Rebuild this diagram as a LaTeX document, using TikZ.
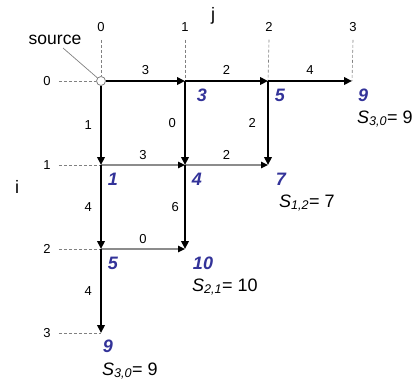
\documentclass[tikz,border=0pt]{standalone}
\usepackage{fontspec}
\setmainfont{Liberation Sans}
\usetikzlibrary{arrows.meta}
\definecolor{valblue}{RGB}{51,51,153}
\definecolor{edgegray}{RGB}{140,140,140}
\begin{document}
\begin{tikzpicture}[x=1pt,y=-1pt,
  thickedge/.style={line width=2.4pt,-{Triangle[length=8pt,width=7.5pt]}},
  thinedge/.style={draw=edgegray,line width=1.3pt,-{Triangle[length=7pt,width=6.5pt,color=black]}},
  guide/.style={densely dashed,draw=gray,line width=0.6pt},
  idx/.style={font=\fontsize{13}{15}\selectfont,inner sep=0pt},
  wt/.style={font=\fontsize{13}{15}\selectfont,inner sep=0pt},
  axis/.style={font=\fontsize{18}{20}\selectfont,inner sep=0pt},
  val/.style={font=\fontsize{18}{20}\selectfont\bfseries\itshape,text=valblue,inner sep=0pt},
  sumlbl/.style={font=\fontsize{18}{20}\selectfont,inner sep=0pt,anchor=base west},
]
\useasboundingbox (0,0) rectangle (417,386);
% grid points
\coordinate (p00) at (101,81);
\coordinate (p01) at (185,81);
\coordinate (p02) at (268,81);
\coordinate (p03) at (352,81);
\coordinate (p10) at (101,165);
\coordinate (p11) at (185,165);
\coordinate (p12) at (268,165);
\coordinate (p20) at (101,249);
\coordinate (p21) at (185,249);
\coordinate (p30) at (101,333);
% index labels
\node[idx] (c0) at (101,27) {0};
\node[idx] (c1) at (185,27) {1};
\node[idx] (c2) at (269,27) {2};
\node[idx] (c3) at (353,27) {3};
\node[idx] (r0) at (47,81) {0};
\node[idx] (r1) at (47,165) {1};
\node[idx] (r2) at (47,249) {2};
\node[idx] (r3) at (47,333) {3};
\node[axis] (jl) at (213,16) {j};
\node[axis] (il) at (17,187) {i};
% source circle
\node[circle,draw=gray,fill=white,line width=0.8pt,minimum size=9pt,inner sep=0pt] (src) at (p00) {};
\node[font=\fontsize{17.5}{20}\selectfont,inner sep=0pt] (srcl) at (55,40) {source};
\coordinate (srcfoot) at (63,48);
\draw[gray,line width=0.7pt] (srcfoot) -- (src);
% guides
\draw[guide] ([yshift=-8pt]c0.south) -- (src.north);
\draw[guide] ([yshift=-8pt]c1.south) -- (p01);
\draw[guide] ([yshift=-8pt]c2.south) -- (p02);
\draw[guide] ([yshift=-8pt]c3.south) -- (p03);
\draw[guide] ([xshift=8pt]r0.east) -- (src.west);
\draw[guide] ([xshift=8pt]r1.east) -- (p10);
\draw[guide] ([xshift=8pt]r2.east) -- (p20);
\draw[guide] ([xshift=8pt]r3.east) -- (p30);
% thin gray edges
\draw[thinedge] (p10) -- node[wt,above=5pt] {3} (p11);
\draw[thinedge] (p11) -- node[wt,above=5pt] {2} (p12);
\draw[thinedge] (p20) -- node[wt,above=5pt] {0} (p21);
% thick edges
\draw[thickedge] (src) -- node[wt,above=5pt] {3} (p01);
\draw[thickedge] (p01) -- node[wt,above=5pt] {2} (p02);
\draw[thickedge] (p02) -- node[wt,above=5pt] {4} (p03);
\draw[thickedge] (src) -- node[wt,left=8pt] {1} (p10);
\draw[thickedge] (p01) -- node[wt,left=8pt] {0} (p11);
\draw[thickedge] (p02) -- node[wt,left=11pt] {2} (p12);
\draw[thickedge] (p10) -- node[wt,left=8pt] {4} (p20);
\draw[thickedge] (p11) -- node[wt,left=5pt] {6} (p21);
\draw[thickedge] (p20) -- node[wt,left=8pt] {4} (p30);
% values
\node[val] (v01) at (202,95) {3};
\node[val] (v02) at (280,95) {5};
\node[val] (v03) at (363,95) {9};
\node[val] (v10) at (113,179) {1};
\node[val] (v11) at (197,179) {4};
\node[val] (v12) at (281,179) {7};
\node[val] (v20) at (113,263) {5};
\node[val] (v21) at (203,263) {10};
\node[val] (v30) at (108,346) {9};
% sums
\node[sumlbl] (s03) at (357,123) {\textit{S}\textsubscript{\textit{3,0}}= 9};
\node[sumlbl] (s12) at (279,207) {\textit{S}\textsubscript{\textit{1,2}}= 7};
\node[sumlbl] (s21) at (192,291) {\textit{S}\textsubscript{\textit{2,1}}= 10};
\node[sumlbl] (s30) at (102,375) {\textit{S}\textsubscript{\textit{3,0}}= 9};
\end{tikzpicture}
\end{document}
